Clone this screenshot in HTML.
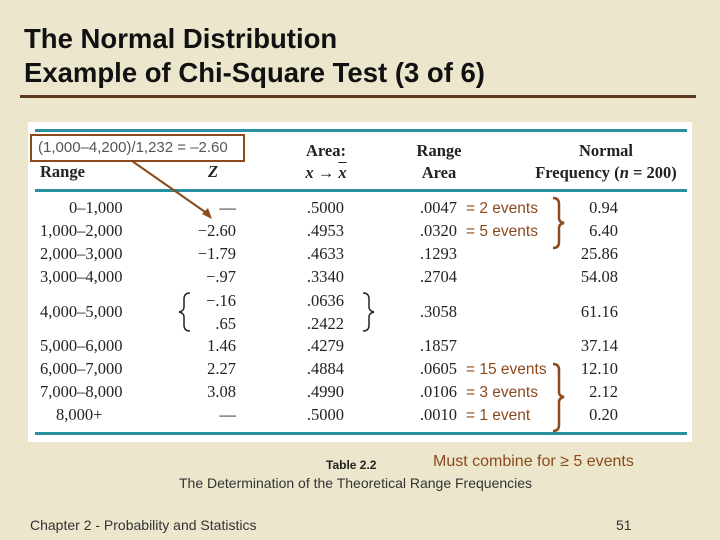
<!DOCTYPE html>
<html><head><meta charset="utf-8"><style>
body{margin:0;width:720px;height:540px;background:#ece6cc;position:relative;overflow:hidden;font-family:"Liberation Sans",sans-serif}
.a{position:absolute;white-space:nowrap}
.t{font-family:"Liberation Serif",serif;font-size:16.5px;color:#222;line-height:18px}
.r{text-align:right}
.h{font-weight:bold}
.ev{font-family:"Liberation Sans",sans-serif;font-size:15.5px;color:#8b4a1c;line-height:18px}
</style></head><body>
<div class="a" style="left:24px;top:22px;font-size:27.5px;font-weight:bold;line-height:34px;color:#111">The Normal Distribution<br>Example of Chi-Square Test (3 of 6)</div>
<div class="a" style="left:20px;top:95px;width:676px;height:3px;background:#5a3a1a"></div>
<div class="a" style="left:28px;top:122px;width:664px;height:320px;background:#fff"></div>
<div class="a" style="left:35px;top:129px;width:652px;height:3px;background:#2a8fa0"></div>
<div class="a" style="left:35px;top:189px;width:652px;height:3px;background:#2a8fa0"></div>
<div class="a" style="left:35px;top:432px;width:652px;height:3px;background:#2a8fa0"></div>

<div class="a" style="left:30px;top:134px;height:24px;border:2px solid #8b4a1c;font-size:15px;color:#555;line-height:24px;padding-left:6px;width:205px">(1,000–4,200)/1,232 = –2.60</div>
<svg class="a" style="left:0;top:0" width="720" height="540">
<line x1="132" y1="161" x2="208" y2="214" stroke="#8b4a1c" stroke-width="2"/>
<polygon points="212,219 202,214 208,208" fill="#8b4a1c"/>
<path d="M553,198 q6,0 6,6 v14 q0,4 5,5 q-5,1 -5,5 v14 q0,6 -6,6" fill="none" stroke="#8b4a1c" stroke-width="2.5"/>
<path d="M553,364 q6,0 6,6 v22 q0,4 5,5 q-5,1 -5,5 v23 q0,6 -6,6" fill="none" stroke="#8b4a1c" stroke-width="2.5"/>
<path d="M190,293 q-6,0 -6,6 v8 q0,4 -5,5 q5,1 5,5 v8 q0,6 6,6" fill="none" stroke="#222" stroke-width="1.5"/>
<path d="M363,293 q6,0 6,6 v8 q0,4 5,5 q-5,1 -5,5 v8 q0,6 -6,6" fill="none" stroke="#222" stroke-width="1.5"/>
</svg>

<div class="a t h" style="left:40px;top:163px">Range</div>
<div class="a t h" style="left:208px;top:163px;font-style:italic">Z</div>
<div class="a t h" style="left:300px;top:140px;text-align:center;width:52px;line-height:22px">Area:<br><i>x</i> → <i style="text-decoration:overline">x</i></div>
<div class="a t h" style="left:408px;top:140px;text-align:center;width:62px;line-height:22px">Range<br>Area</div>
<div class="a t h" style="left:524px;top:140px;text-align:center;width:164px;line-height:22px">Normal<br>Frequency (<i>n</i> = 200)</div>

<div id="rows"></div>
<div class="a" style="left:326px;top:458px;font-size:12px;font-weight:bold;color:#222">Table 2.2</div>
<div class="a" style="left:433px;top:453px;font-size:16px;color:#8b4a1c">Must combine for ≥ 5 events</div>
<div class="a" style="left:179px;top:475px;font-size:14px;color:#333">The Determination of the Theoretical Range Frequencies</div>
<div class="a" style="left:30px;top:517px;font-size:14px;color:#333">Chapter 2 - Probability and Statistics</div>
<div class="a" style="left:616px;top:517px;font-size:14px;color:#333">51</div>
<script>
const ranges=["0–1,000","1,000–2,000","2,000–3,000","3,000–4,000","4,000–5,000","5,000–6,000","6,000–7,000","7,000–8,000","8,000+"];
const zs=["—","−2.60","−1.79","−.97","−.16|.65","1.46","2.27","3.08","—"];
const areas=[".5000",".4953",".4633",".3340",".0636|.2422",".4279",".4884",".4990",".5000"];
const rangeAreas=[".0047",".0320",".1293",".2704",".3058",".1857",".0605",".0106",".0010"];
const freqs=["0.94","6.40","25.86","54.08","61.16","37.14","12.10","2.12","0.20"];
const events=["= 2 events","= 5 events","","","","","= 15 events","= 3 events","= 1 event"];
const c=document.getElementById('rows');
function add(txt,x,y,cls,name,align){const d=document.createElement('div');d.className='a '+cls;d.textContent=txt;
if(align==='r'){d.style.right=(720-x)+'px';}else{d.style.left=x+'px';}d.style.top=y+'px';


c.appendChild(d);}
const ys=[199,222,245,268,303,337,360,383,406];
ranges.forEach((r,i)=>{const y=ys[i];
 if(i===0)add(r,69,y,'t','range-cell');else if(i===8)add(r,56,y,'t','range-cell');else add(r,40,y,'t','range-cell');
 [[zs[i],236,'z-cell'],[areas[i],344,'area-cell']].forEach(([v,x,n])=>{
   if(v.includes('|')){const p=v.split('|');add(p[0],x,y-11,'t',n,'r');add(p[1],x,y+12,'t',n,'r');}
   else add(v,x,y,'t',n,'r');});
 add(rangeAreas[i],457,y,'t','range-area-cell','r');
 add(freqs[i],618,y,'t','frequency-cell','r');
 if(events[i])add(events[i],466,y+1,'ev','event-note');
});
</script>
</body></html>
